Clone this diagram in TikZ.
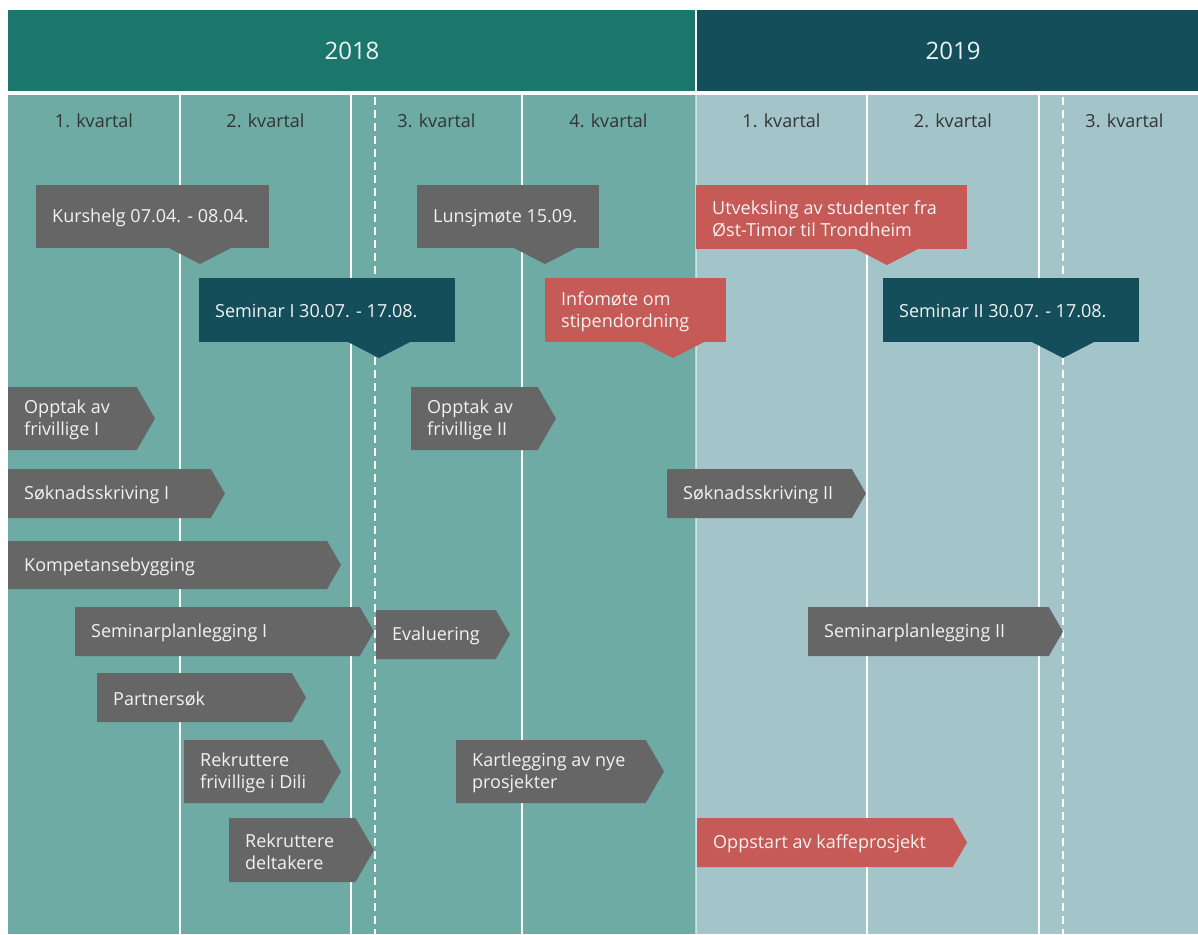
\documentclass[tikz,border=0pt]{standalone}
\usepackage{fontspec}
\setmainfont{Open Sans}
\definecolor{hdrA}{HTML}{1B766B}
\definecolor{hdrB}{HTML}{134E5A}
\definecolor{bodyA}{HTML}{6EABA4}
\definecolor{bodyB}{HTML}{A3C4C9}
\definecolor{boxgray}{HTML}{666666}
\definecolor{boxred}{HTML}{C55A57}
\definecolor{boxteal}{HTML}{134E5A}
\definecolor{qtxt}{HTML}{333333}
\definecolor{btext}{HTML}{F2F2F2}
% name, colour, x1, y1, x2, y2, tip x, text
\newcommand\tlcallout[8]{%
  \fill[#2] (#3,#4) rectangle (#5,#6);
  \fill[#2] ({#7-32},{#6-0.5}) -- (#7,{#6+16}) -- ({#7+32},{#6-0.5}) -- cycle;
  \node[btxt,anchor=west] (#1) at ({#3+16},{(#4+#6)/2+1.5}) {#8};
}
% name, colour, x1, y1, tip x, y2, text
\newcommand\tlarrow[7]{%
  \fill[#2] (#3,#4) -- ({#5-(#6-#4)*0.29},#4) -- (#5,{(#4+#6)/2}) -- ({#5-(#6-#4)*0.29},#6) -- (#3,#6) -- cycle;
  \node[btxt,anchor=west] (#1) at ({#3+16},{(#4+#6)/2+1.5}) {#7};
}
\begin{document}
\begin{tikzpicture}[x=1pt,y=-1pt,
  btxt/.style={text=btext, font=\fontsize{18}{22}\selectfont, align=left, inner sep=0pt},
  qlabel/.style={text=qtxt, font=\fontsize{18}{22}\selectfont, inner sep=0pt},
  ylabel/.style={text=white!92!hdrA, font=\fontsize{24}{28}\selectfont, inner sep=0pt},
  solidsep/.style={draw=white, line width=1.3pt},
  dashsep/.style={draw=white, line width=1.2pt, dash pattern=on 8pt off 5pt},
]
\useasboundingbox (0,0) rectangle (1198,934);
\fill[white] (0,0) rectangle (1198,934);
% headers
\fill[hdrA] (8,10) rectangle (695,91);
\fill[hdrB] (697,10) rectangle (1198,91);
% bodies
\fill[bodyA] (8,95) rectangle (696,934);
\fill[bodyB] (696,95) rectangle (1198,934);
% separators
\foreach \x in {180,351,522,867,1039} \draw[solidsep] (\x,95) -- (\x,934);
\draw[solidsep, draw opacity=0.5] (696,95) -- (696,934);
\foreach \x in {375,1063} \draw[dashsep] (\x,97) -- (\x,934);
% year labels
\node[ylabel] (y2018) at (352,51) {2018};
\node[ylabel] (y2019) at (953,51) {2019};
% quarter labels
\node[qlabel] (q1a) at (94,121) {1. kvartal};
\node[qlabel] (q2a) at (265.5,121) {2. kvartal};
\node[qlabel] (q3a) at (436.5,121) {3. kvartal};
\node[qlabel] (q4a) at (608.5,121) {4. kvartal};
\node[qlabel] (q1b) at (781.5,121) {1. kvartal};
\node[qlabel] (q2b) at (953,121) {2. kvartal};
\node[qlabel] (q3b) at (1124.5,121) {3. kvartal};
% callouts
\tlcallout{kurs}{boxgray}{36}{185}{269}{248}{200}{Kurshelg 07.04. - 08.04.}
\tlcallout{sem1}{boxteal}{199}{278}{455}{342}{379}{Seminar I 30.07. - 17.08.}
\tlcallout{lunsj}{boxgray}{417}{185}{599}{248}{545}{Lunsjmøte 15.09.}
\tlcallout{info}{boxred}{545}{278}{726}{342}{673}{Infomøte om\\stipendordning}
\tlcallout{utv}{boxred}{696}{185}{967}{249}{887}{Utveksling av studenter fra\\Øst-Timor til Trondheim}
\tlcallout{sem2}{boxteal}{883}{278}{1139}{342}{1063}{Seminar II 30.07. - 17.08.}
% activity bars
\tlarrow{opp1}{boxgray}{8}{387}{155}{450}{Opptak av\\frivillige I}
\tlarrow{sok1}{boxgray}{8}{469}{225}{518}{Søknadsskriving I}
\tlarrow{komp}{boxgray}{8}{541}{341}{589}{Kompetansebygging}
\tlarrow{semp1}{boxgray}{75}{607}{374}{656}{Seminarplanlegging I}
\tlarrow{eval}{boxgray}{376}{610}{510}{659}{Evaluering}
\tlarrow{partner}{boxgray}{97}{673}{306}{722}{Partnersøk}
\tlarrow{rekf}{boxgray}{184}{740}{341}{803}{Rekruttere\\frivillige i Dili}
\tlarrow{rekd}{boxgray}{229}{818}{374}{882}{Rekruttere\\deltakere}
\tlarrow{opp2}{boxgray}{411}{387}{556}{450}{Opptak av\\frivillige II}
\tlarrow{kart}{boxgray}{456}{740}{664}{803}{Kartlegging av nye\\prosjekter}
\tlarrow{sok2}{boxgray}{667}{469}{866}{518}{Søknadsskriving II}
\tlarrow{semp2}{boxgray}{808}{607}{1063}{656}{Seminarplanlegging II}
\tlarrow{kaffe}{boxred}{697}{818}{967}{867}{Oppstart av kaffeprosjekt}
\end{tikzpicture}
\end{document}
